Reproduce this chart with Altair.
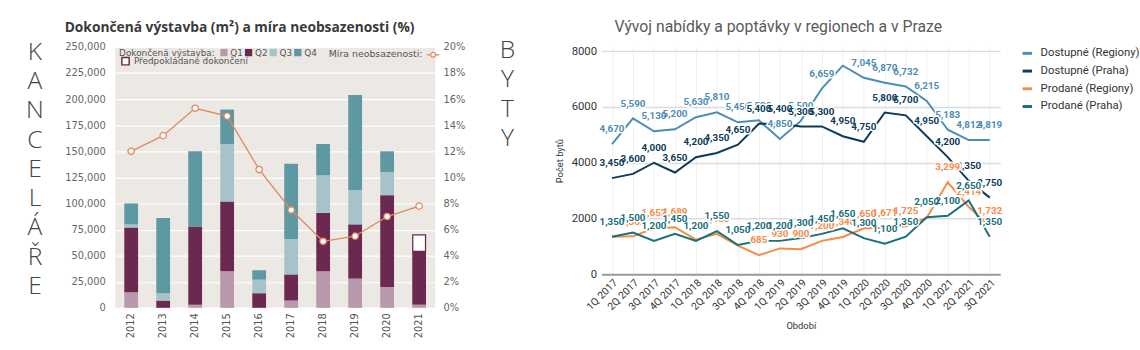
import altair as alt
import pandas as pd

# ---------------- Left chart data (offices) ----------------
years = ['2012', '2013', '2014', '2015', '2016', '2017', '2018', '2019', '2020', '2021']
q1 = [15000, 0, 3000, 35000, 0, 7000, 35000, 28000, 20000, 3000]
q2 = [62000, 7000, 75000, 67000, 14000, 25000, 56000, 52000, 88000, 51000]
q3 = [3000, 7000, 0, 55000, 13000, 34000, 36000, 33000, 22000, 0]
q4 = [20000, 72000, 72000, 33000, 9000, 72000, 30000, 91000, 20000, 0]
forecast = [0, 0, 0, 0, 0, 0, 0, 0, 0, 16000]
vacancy = [0.120, 0.132, 0.153, 0.147, 0.106, 0.075, 0.051, 0.055, 0.070, 0.078]
quarters = ['Q1', 'Q2', 'Q3', 'Q4']
q_colors = ['#b899ab', '#6b2950', '#a5c4ca', '#5e98a2']
left_axis_values = [0, 25000, 50000, 75000, 100000, 125000, 150000, 175000, 200000, 225000, 250000]
right_axis_values = [0, 0.02, 0.04, 0.06, 0.08, 0.10, 0.12, 0.14, 0.16, 0.18, 0.20]

# ---------------- Right chart data (flats) ----------------
periods = ['1Q 2017', '2Q 2017', '3Q 2017', '4Q 2017', '1Q 2018', '2Q 2018', '3Q 2018', '4Q 2018',
           '1Q 2019', '2Q 2019', '3Q 2019', '4Q 2019', '1Q 2020', '2Q 2020', '3Q 2020', '4Q 2020',
           '1Q 2021', '2Q 2021', '3Q 2021']
dost_regiony = [4670, 5590, 5130, 5200, 5630, 5810, 5450, 5520, 4850, 5500, 6659, 7480, 7045, 6870, 6732, 6215, 5183, 4812, 4819]
dost_praha = [3450, 3600, 4000, 3650, 4200, 4350, 4650, 5400, 5400, 5300, 5300, 4950, 4750, 5800, 5700, 4950, 4200, 3350, 2750]
prod_regiony = [1350, 1362, 1652, 1689, 1245, 1450, 1030, 685, 930, 900, 1200, 1340, 1650, 1671, 1725, 2030, 3299, 2414, 1732]
prod_praha = [1350, 1500, 1200, 1450, 1200, 1550, 1050, 1200, 1200, 1300, 1450, 1650, 1300, 1100, 1350, 2050, 2100, 2650, 1350]
series_names = ['Dostupné (Regiony)', 'Dostupné (Praha)', 'Prodané (Regiony)', 'Prodané (Praha)']
series_colors = ['#4b8db6', '#0c3a5a', '#f68b47', '#17707c']
hidden_labels = [('Dostupné (Regiony)', '4Q 2019')]
y_ticks_right = [0, 2000, 4000, 6000, 8000]

kancelare = list('KANCELÁŘE')
byty = list('BYTY')

# ---------------- build tables ----------------
rows = []
for i, y in enumerate(years):
    for qi, (qn, arr) in enumerate(zip(quarters, [q1, q2, q3, q4])):
        rows.append({'year': y, 'q': qn, 'qi': qi, 'value': arr[i]})
df_bars = pd.DataFrame(rows)

fc_rows = []
for i, y in enumerate(years):
    if forecast[i] > 0:
        base = q1[i] + q2[i] + q3[i] + q4[i]
        fc_rows.append({'year': y, 'y0': base, 'y1': base + forecast[i], 'f': 'Předpokládané dokončení'})
df_fc = pd.DataFrame(fc_rows)

df_vac = pd.DataFrame({'year': years, 'vac': vacancy, 'm': ['Míra'] * len(years)})

r_rows = []
for sname, arr in zip(series_names, [dost_regiony, dost_praha, prod_regiony, prod_praha]):
    for p, v in zip(periods, arr):
        r_rows.append({'period': p, 'series': sname, 'value': v,
                       'show': (sname, p) not in hidden_labels})
df_r = pd.DataFrame(r_rows)

LFONT = 'DejaVu Sans'
BG = '#ece8e3'
ORANGE = '#e0895f'
MAROON = '#6b2950'

# ---------------- letter columns ----------------
def letters_chart(letters, width, height, pad, shift):
    d = pd.DataFrame({'i': list(range(len(letters))), 'ch': letters})
    return alt.Chart(d).mark_text(font='Open Sans', fontSize=25, color='#454545', fontWeight=300,
                                  dx=shift).encode(
        y=alt.Y('i:O', axis=None, scale=alt.Scale(type='point', padding=pad)),
        text='ch:N'
    ).properties(width=width, height=height)

left_letters = letters_chart(kancelare, 63, 248, 0.17, 3)
mid_letters = letters_chart(byty, 87, 96, 0.1, -2)

# ---------------- left chart ----------------
x_left = alt.X('year:N', sort=years, title=None,
               axis=alt.Axis(labelAngle=-90, ticks=False, domain=False, labelFont=LFONT,
                             labelFontSize=10, labelColor='#555', labelPadding=5))
y_left_axis = alt.Axis(values=left_axis_values, format=',.0f', grid=True, gridColor='white', gridWidth=1.2,
                       domain=False, ticks=False, labelFont=LFONT, labelFontSize=10, labelColor='#666',
                       labelPadding=10)
y_left_scale = alt.Scale(domain=[0, 250000], nice=False)

bars = alt.Chart(df_bars).mark_bar(size=14).encode(
    x=x_left,
    y=alt.Y('value:Q', stack='zero', scale=y_left_scale, title=None, axis=y_left_axis),
    fill=alt.Fill('q:N', scale=alt.Scale(domain=quarters, range=q_colors),
                  legend=alt.Legend(title='Dokončená výstavba:', orient='none', legendX=120, legendY=1,
                                    direction='horizontal', titleOrient='left', symbolType='square',
                                    symbolSize=55, symbolStrokeWidth=0, labelFont=LFONT, titleFont=LFONT,
                                    labelFontSize=9, titleFontSize=9, titleFontWeight='normal',
                                    labelColor='#555', titleColor='#555', columnPadding=1,
                                    labelOffset=2, titlePadding=4, padding=0)),
    order=alt.Order('qi:Q', sort='ascending')
)

fc = alt.Chart(df_fc).mark_bar(size=13, fill='white', strokeWidth=1.3).encode(
    x=x_left,
    y=alt.Y('y0:Q', title=None, scale=y_left_scale, axis=y_left_axis),
    y2='y1:Q',
    stroke=alt.Stroke('f:N', scale=alt.Scale(domain=['Předpokládané dokončení'], range=[MAROON]),
                      legend=alt.Legend(title=None, orient='none', legendX=6, legendY=10,
                                        direction='horizontal', symbolType='square', symbolSize=55,
                                        symbolFillColor='white', symbolStrokeWidth=1.5, labelAlign='left',
                                        labelFont=LFONT, labelFontSize=9, labelColor='#555',
                                        labelOffset=4, padding=0))
)

line_sym = 'M-1,0L-0.38,0M0.38,0L1,0M0.38,0A0.38,0.38 0 1 1 -0.38,0A0.38,0.38 0 1 1 0.38,0Z'
vac_line = alt.Chart(df_vac).mark_line(strokeWidth=1.3,
                                       point=alt.OverlayMarkDef(filled=True, fill='white', size=42,
                                                                strokeWidth=1.3)).encode(
    x=x_left,
    y=alt.Y('vac:Q', scale=alt.Scale(domain=[0, 0.20], nice=False), title=None,
            axis=alt.Axis(orient='right', values=right_axis_values, format='.0%', grid=False, domain=False,
                          ticks=False, labelFont=LFONT, labelFontSize=10, labelColor='#666', labelPadding=8)),
    stroke=alt.Stroke('m:N', scale=alt.Scale(domain=['Míra'], range=[ORANGE]),
                      legend=alt.Legend(title='Míra neobsazenosti:', orient='none', legendX=217, legendY=1,
                                        titleOrient='left', labelExpr="''", symbolType=line_sym,
                                        symbolSize=160, symbolFillColor='white', symbolStrokeWidth=1.3,
                                        titleFont=LFONT, titleFontSize=9.5, titleFontWeight='normal',
                                        titleColor='#555', titlePadding=3, padding=0))
)

left = alt.layer(alt.layer(bars, fc), vac_line).resolve_scale(
    y='independent', stroke='independent'
).properties(
    width=325, height=265,
    view=alt.ViewBackground(fill=BG, strokeWidth=0),
    title=alt.TitleParams('Dokončená výstavba (m²) a míra neobsazenosti (%)', anchor='start', frame='bounds',
                          font='Open Sans', fontSize=14, fontWeight='bold', color='#3a3a3a', offset=7)
)

# ---------------- right chart ----------------
x_right = alt.X('period:N', sort=periods, scale=alt.Scale(type='point', padding=0.5), title='Období',
                axis=alt.Axis(labelAngle=-45, labelFont='Roboto', labelFontSize=10.5, labelColor='#333',
                              grid=True, gridColor='#f1f1f1', domainColor='#9a9a9a', domainWidth=2,
                              ticks=False, titleFont='Roboto', titleFontSize=9.5, titleFontWeight='normal',
                              titleColor='#333', titlePadding=9, labelPadding=3))
y_right = alt.Y('value:Q', scale=alt.Scale(domain=[0, 8150], nice=False), title='Počet bytů',
                axis=alt.Axis(values=y_ticks_right, format='d', domain=False, ticks=False,
                              gridColor='#dcdcdc', gridWidth=1.5, labelFont='Roboto', labelFontSize=11.5,
                              labelColor='#333', labelPadding=5, titleFont='Roboto', titleFontSize=9.5,
                              titleFontWeight='normal', titleColor='#333', titlePadding=7))
color_r = alt.Color('series:N', scale=alt.Scale(domain=series_names, range=series_colors),
                    legend=alt.Legend(title=None, orient='right', offset=18, symbolType='stroke',
                                      symbolStrokeWidth=3, symbolSize=90, labelFont='Roboto',
                                      labelFontSize=11.5, labelColor='#333', rowPadding=5, labelOffset=7))

base_r = alt.Chart(df_r)
lines_r = base_r.mark_line(strokeWidth=2).encode(x=x_right, y=y_right, color=color_r)

layers = [lines_r]
for s in series_names:
    sub = base_r.transform_filter((alt.datum.series == s) & alt.datum.show)
    layers.append(sub.mark_text(font='Roboto', fontSize=10, fontWeight='bold', dy=-15,
                                stroke='white', strokeWidth=3, strokeJoin='round', fill='white').encode(
        x=x_right, y=y_right, text=alt.Text('value:Q', format=',')))
    layers.append(sub.mark_text(font='Roboto', fontSize=10, fontWeight='bold', dy=-15).encode(
        x=x_right, y=y_right, text=alt.Text('value:Q', format=','), color=color_r))

right = alt.layer(*layers).properties(
    width=405, height=231,
    title=alt.TitleParams('Vývoj nabídky a poptávky v regionech a v Praze', anchor='middle', frame='bounds',
                          font='Roboto', fontSize=16, fontWeight='normal', color='#5a5a5a', offset=10)
)

chart = alt.hconcat(left_letters, left, mid_letters, right, spacing=0).properties(
    padding={'left': 0, 'top': 16, 'right': 0, 'bottom': 0}
).configure(background='white', view=alt.ViewConfig(stroke='transparent'))

chart.save('out.html', embed_options={'renderer': 'svg', 'actions': False})
